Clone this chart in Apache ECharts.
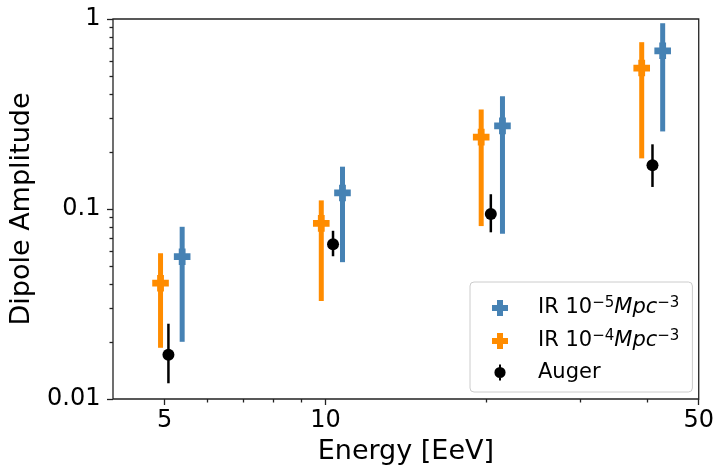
<!DOCTYPE html>
<html>
<head>
<meta charset="utf-8">
<script src="https://cdn.jsdelivr.net/npm/echarts@6/dist/echarts.min.js"></script>
<style>
html,body{margin:0;padding:0;background:#fff;}
#chart{width:717px;height:470px;}
</style>
</head>
<body>
<div id="chart"></div>
<script>
// ---- data ----
const energyIR5 = [5.39, 10.76, 21.45, 42.8];
const ampIR5    = [0.0561, 0.1215, 0.274, 0.68];
const lowIR5    = [0.0200, 0.0525, 0.0741, 0.256];
const highIR5   = [0.0806, 0.167, 0.392, 0.95];

const energyIR4 = [4.91, 9.82, 19.57, 39.1];
const ampIR4    = [0.0407, 0.084, 0.239, 0.552];
const lowIR4    = [0.0186, 0.0328, 0.0813, 0.1847];
const highIR4   = [0.0585, 0.111, 0.334, 0.755];

const energyAuger = [5.08, 10.33, 20.4, 40.96];
const ampAuger    = [0.0171, 0.0652, 0.094, 0.170];
const lowAuger    = [0.0121, 0.0564, 0.0754, 0.1306];
const highAuger   = [0.0249, 0.0768, 0.1196, 0.219];

const seriesNames = ['IR 1e-5', 'IR 1e-4', 'Auger'];
const xMajorTicks = [5, 10, 50];
const xMajorLabels = ['5', '10', '50'];
const xMinorTicks = [6, 7, 8, 9, 20, 30, 40];
const yMajorTicks = [0.01, 0.1, 1];
const yMajorLabels = ['0.01', '0.1', '1'];
const yMinorTicks = [0.02, 0.03, 0.04, 0.05, 0.06, 0.07, 0.08, 0.09, 0.2, 0.3, 0.4, 0.5, 0.6, 0.7, 0.8, 0.9];

// ---- styles ----
const BLUE = '#4682b4', ORANGE = '#ff8c00', BLACK = '#000000';
const FONT = 'DejaVu Sans';
const AX = '#222222';

function rows(xs, ys, lo, hi) {
  return xs.map((x, i) => [x, ys[i], lo[i], hi[i]]);
}

function plusPoints(cx, cy, h, a) {
  return [
    [cx - a, cy - h], [cx + a, cy - h], [cx + a, cy - a], [cx + h, cy - a],
    [cx + h, cy + a], [cx + a, cy + a], [cx + a, cy + h], [cx - a, cy + h],
    [cx - a, cy + a], [cx - h, cy + a], [cx - h, cy - a], [cx - a, cy - a]
  ];
}

function makeRender(color, lineW, marker) {
  return function (params, api) {
    const x = api.value(0), y = api.value(1), lo = api.value(2), hi = api.value(3);
    const pc = api.coord([x, y]);
    const pl = api.coord([x, lo]);
    const ph = api.coord([x, hi]);
    const children = [{
      type: 'line',
      shape: { x1: pl[0], y1: pl[1], x2: ph[0], y2: ph[1] },
      style: { stroke: color, lineWidth: lineW }
    }];
    if (marker === 'plus') {
      children.push({
        type: 'polygon',
        shape: { points: plusPoints(pc[0], pc[1], 8.3, 3.4) },
        style: { fill: color, stroke: null }
      });
    } else {
      children.push({
        type: 'circle',
        shape: { cx: pc[0], cy: pc[1], r: 6 },
        style: { fill: color, stroke: null }
      });
    }
    return { type: 'group', children: children };
  };
}

const plusIcon = 'path://M5,0h6v5h5v6h-5v5h-6v-5h-5v-6h5z';
const augerIcon = 'path://M0,0h0.01v0.01h-0.01z M15.99,15.99h0.01v0.01h-0.01z M7,0h2v2.8h-2z M7,13.2h2v2.8h-2z M2.4,8a5.6,5.6 0 1,1 11.2,0a5.6,5.6 0 1,1 -11.2,0z';

const legendText = {
  'IR 1e-5': '{sp| }{n|IR 10}{sup|\u22125}{it|Mpc}{sup|\u22123}',
  'IR 1e-4': '{sp| }{n|IR 10}{sup|\u22124}{it|Mpc}{sup|\u22123}',
  'Auger':   '{sp| }{n|Auger}'
};

const chart = echarts.init(document.getElementById('chart'), null, { renderer: 'canvas' });

const tickStyle = { color: AX, width: 1.3 };

const option = {
  animation: false,
  backgroundColor: '#ffffff',
  textStyle: { fontFamily: FONT },
  grid: {
    left: 113, right: 17, top: 19, bottom: 69,
    show: true, borderColor: AX, borderWidth: 1.3, backgroundColor: 'transparent'
  },
  xAxis: [
    {
      type: 'log', logBase: 10, min: 4, max: 50, position: 'bottom',
      axisLine: { show: false },
      splitLine: { show: false },
      axisTick: { show: true, inside: false, length: 6, lineStyle: tickStyle, customValues: xMajorTicks },
      axisLabel: {
        show: true, margin: 10, fontSize: 24, color: BLACK, fontFamily: FONT,
        customValues: xMajorTicks,
        formatter: function (v) {
          const i = xMajorTicks.findIndex(t => Math.abs(t - v) < 1e-6 * t);
          return i >= 0 ? xMajorLabels[i] : '';
        }
      },
      name: 'Energy [EeV]', nameLocation: 'middle', nameGap: 39,
      nameTextStyle: { fontSize: 27, color: BLACK, fontFamily: FONT }
    },
    {
      type: 'log', logBase: 10, min: 4, max: 50, position: 'bottom',
      axisLine: { show: false },
      splitLine: { show: false },
      axisTick: { show: true, inside: false, length: 3.5, lineStyle: tickStyle, customValues: xMinorTicks },
      axisLabel: { show: false }
    }
  ],
  yAxis: [
    {
      type: 'log', logBase: 10, min: 0.01, max: 1, position: 'left',
      axisLine: { show: false },
      splitLine: { show: false },
      axisTick: { show: true, inside: false, length: 6, lineStyle: tickStyle, customValues: yMajorTicks },
      axisLabel: {
        show: true, margin: 12.5, fontSize: 24, color: BLACK, fontFamily: FONT,
        customValues: yMajorTicks,
        formatter: function (v) {
          const i = yMajorTicks.findIndex(t => Math.abs(t - v) < 1e-6 * t);
          return i >= 0 ? yMajorLabels[i] : '';
        }
      },
      name: 'Dipole Amplitude', nameLocation: 'middle', nameGap: 78, nameRotate: 90,
      nameTextStyle: { fontSize: 27, color: BLACK, fontFamily: FONT }
    },
    {
      type: 'log', logBase: 10, min: 0.01, max: 1, position: 'left',
      axisLine: { show: false },
      splitLine: { show: false },
      axisTick: { show: true, inside: false, length: 3.5, lineStyle: tickStyle, customValues: yMinorTicks },
      axisLabel: { show: false }
    }
  ],
  legend: {
    show: true,
    orient: 'vertical',
    left: 470, top: 282,
    padding: [14, 13, 9, 22],
    itemGap: 10.5,
    itemWidth: 16, itemHeight: 16,
    selectedMode: false,
    backgroundColor: 'rgba(255,255,255,0.8)',
    borderColor: '#cccccc', borderWidth: 1, borderRadius: 4,
    data: [
      { name: seriesNames[0], icon: plusIcon, itemStyle: { color: BLUE } },
      { name: seriesNames[1], icon: plusIcon, itemStyle: { color: ORANGE } },
      { name: seriesNames[2], icon: augerIcon, itemStyle: { color: BLACK } }
    ],
    formatter: function (name) { return legendText[name]; },
    textStyle: {
      color: BLACK, fontFamily: FONT, fontSize: 21,
      rich: {
        sp: { width: 25, fontSize: 21, lineHeight: 24 },
        n: { fontSize: 21, lineHeight: 24, color: BLACK, fontFamily: FONT },
        it: { fontSize: 21, lineHeight: 24, fontStyle: 'italic', color: BLACK, fontFamily: FONT },
        sup: { fontSize: 15, lineHeight: 15, verticalAlign: 'top', color: BLACK, fontFamily: FONT }
      }
    }
  },
  series: [
    {
      name: seriesNames[0], type: 'custom', xAxisIndex: 0, yAxisIndex: 0,
      renderItem: makeRender(BLUE, 5.0, 'plus'),
      itemStyle: { color: BLUE },
      encode: { x: 0, y: 1 },
      data: rows(energyIR5, ampIR5, lowIR5, highIR5), z: 2
    },
    {
      name: seriesNames[1], type: 'custom', xAxisIndex: 0, yAxisIndex: 0,
      renderItem: makeRender(ORANGE, 5.0, 'plus'),
      itemStyle: { color: ORANGE },
      encode: { x: 0, y: 1 },
      data: rows(energyIR4, ampIR4, lowIR4, highIR4), z: 3
    },
    {
      name: seriesNames[2], type: 'custom', xAxisIndex: 0, yAxisIndex: 0,
      renderItem: makeRender(BLACK, 2.5, 'circle'),
      itemStyle: { color: BLACK },
      encode: { x: 0, y: 1 },
      data: rows(energyAuger, ampAuger, lowAuger, highAuger), z: 4
    }
  ]
};

chart.setOption(option);
</script>
</body>
</html>
